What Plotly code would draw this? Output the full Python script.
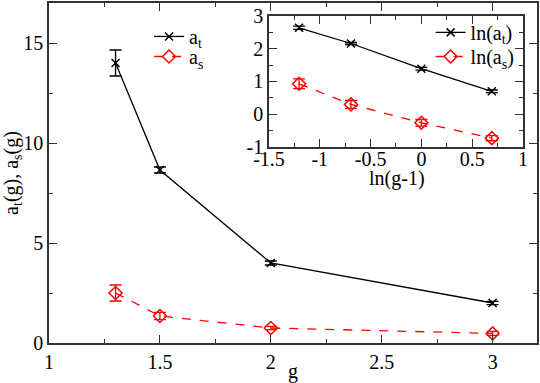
import plotly.graph_objects as go

# datos principales
g = [1.3, 1.5, 2.0, 3.0]
a_t = [14.0, 8.65, 4.0, 2.0]
a_t_err = [0.65, 0.15, 0.1, 0.08]
a_s = [2.5, 1.35, 0.75, 0.48]
a_s_err = [0.4, 0.18, 0.08, 0.1]

# inset: escala logaritmica
ln_g1 = [-1.204, -0.693, 0.0, 0.693]
ln_a_t = [2.64, 2.16, 1.39, 0.70]
ln_a_t_err = [0.05, 0.03, 0.04, 0.04]
ln_a_s = [0.93, 0.30, -0.26, -0.73]
ln_a_s_err = [0.15, 0.12, 0.1, 0.08]

# ticks del inset (con guion normal, como en el original)
inset_xticks = [-1.5, -1.0, -0.5, 0.0, 0.5, 1.0]
inset_xlabels = ["-1.5", "-1", "-0.5", "0", "0.5", "1"]
inset_yticks = [-1, 0, 1, 2, 3]
inset_ylabels = ["-1", "0", "1", "2", "3"]

FONT = "Liberation Serif, Times New Roman, Times, serif"
BLACK = "black"
RED = "#ff0000"

# dominio del inset (relativo al area de trazado)
INSET_X = [0.4508, 0.9713]
INSET_Y = [0.5765, 0.9618]

fig = go.Figure()

# curvas principales
fig.add_trace(go.Scatter(
    x=g, y=a_t, mode="lines+markers", name="a<sub>t</sub>",
    line=dict(color=BLACK, width=1.3),
    marker=dict(symbol="x-thin", size=8, line=dict(color=BLACK, width=1.5)),
    error_y=dict(type="data", array=a_t_err, color=BLACK, thickness=1.3, width=6),
    legend="legend",
))
fig.add_trace(go.Scatter(
    x=g, y=a_s, mode="lines+markers", name="a<sub>s</sub>",
    line=dict(color=RED, width=1.3, dash="dash"),
    marker=dict(symbol="diamond-open", size=10, color=RED, line=dict(width=1.5)),
    error_y=dict(type="data", array=a_s_err, color=RED, thickness=1.3, width=6),
    legend="legend2",
))

# curvas del inset
fig.add_trace(go.Scatter(
    x=ln_g1, y=ln_a_t, mode="lines+markers", name="ln(a<sub>t</sub>)",
    xaxis="x2", yaxis="y2",
    line=dict(color=BLACK, width=1.3),
    marker=dict(symbol="x-thin", size=8, line=dict(color=BLACK, width=1.5)),
    error_y=dict(type="data", array=ln_a_t_err, color=BLACK, thickness=1.3, width=6),
    legend="legend3",
))
fig.add_trace(go.Scatter(
    x=ln_g1, y=ln_a_s, mode="lines+markers", name="ln(a<sub>s</sub>)",
    xaxis="x2", yaxis="y2",
    line=dict(color=RED, width=1.3, dash="dash"),
    marker=dict(symbol="diamond-open", size=10, color=RED, line=dict(width=1.5)),
    error_y=dict(type="data", array=ln_a_s_err, color=RED, thickness=1.3, width=6),
    legend="legend4",
))

axis_style = dict(
    showline=True, linecolor="#333", linewidth=1.5, mirror="allticks",
    ticks="inside", ticklen=8, tickwidth=1.2, tickcolor="#333",
    showgrid=False, zeroline=False, automargin=False,
    tickfont=dict(family=FONT, size=20, color=BLACK),
)

legend_style = dict(
    xanchor="left", yanchor="top", bgcolor="rgba(0,0,0,0)",
    font=dict(family=FONT, size=20), itemwidth=30,
)

fig.update_layout(
    width=540, height=383,
    margin=dict(l=49, r=3, t=3, b=40),
    paper_bgcolor="white", plot_bgcolor="white",
    font=dict(family=FONT, size=20, color=BLACK),
    xaxis=dict(
        axis_style, range=[1, 3.2], dtick=0.5,
        minor=dict(ticks="inside", ticklen=4, dtick=0.25, tickcolor="#333"),
        title=dict(text="g", font=dict(family=FONT, size=20), standoff=0),
    ),
    yaxis=dict(
        axis_style, range=[0, 17], dtick=5,
        minor=dict(ticks="inside", ticklen=4, dtick=2.5, tickcolor="#333"),
        title=dict(text="a<sub>t</sub>(g), a<sub>s</sub>(g)", font=dict(family=FONT, size=20), standoff=4),
    ),
    xaxis2=dict(
        axis_style, domain=INSET_X, range=[-1.5, 1],
        tickvals=inset_xticks, ticktext=inset_xlabels,
        ticklabelstandoff=-7,
        anchor="y2",
        minor=dict(ticks="inside", ticklen=4, dtick=0.25, tickcolor="#333"),
    ),
    yaxis2=dict(
        axis_style, domain=INSET_Y, range=[-1, 3],
        tickvals=inset_yticks, ticktext=inset_ylabels,
        anchor="x2",
        minor=dict(ticks="inside", ticklen=4, dtick=0.5, tickcolor="#333"),
    ),
    legend=dict(legend_style, x=0.205, y=0.959),
    legend2=dict(legend_style, x=0.205, y=0.900),
    legend3=dict(legend_style, x=0.782, y=0.971),
    legend4=dict(legend_style, x=0.782, y=0.90),
    showlegend=True,
)

# titulo del eje x del inset, mas pegado a los ticks
fig.add_annotation(
    text="ln(g-1)", xref="paper", yref="paper", x=0.713, y=0.485,
    showarrow=False, font=dict(family=FONT, size=20),
    xanchor="center", yanchor="middle",
)

# fondo blanco del inset
fig.add_shape(
    type="rect", xref="paper", yref="paper",
    x0=INSET_X[0], x1=INSET_X[1], y0=INSET_Y[0], y1=INSET_Y[1],
    fillcolor="white", line=dict(width=0), layer="below",
)

# quitar el margen por defecto del body
fig.write_html(
    "out.html",
    config={"displayModeBar": False},
    post_script="document.body.style.margin='0';",
)
